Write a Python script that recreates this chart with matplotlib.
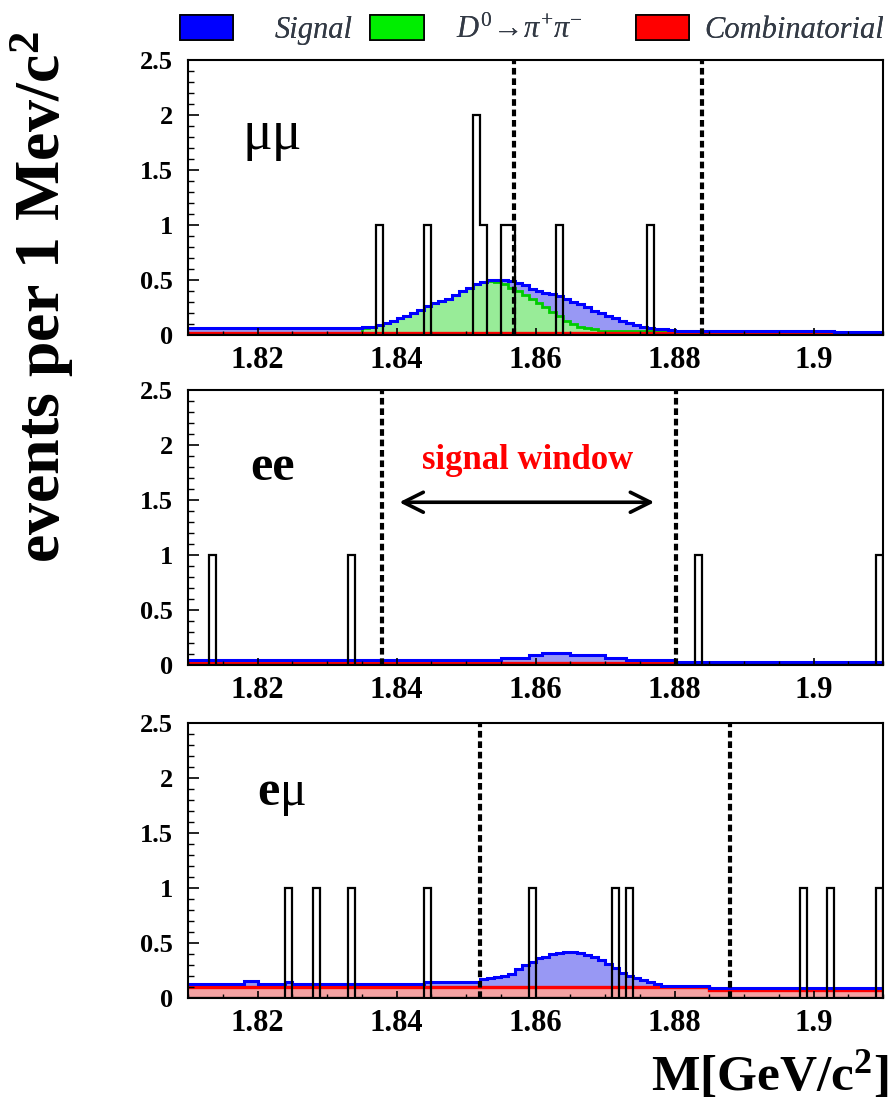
import numpy as np
import matplotlib
matplotlib.use("Agg")
import matplotlib.pyplot as plt
from matplotlib.patches import Patch
from matplotlib.ticker import MultipleLocator

plt.rcParams['font.family'] = ['Liberation Serif', 'DejaVu Serif']
plt.rcParams['mathtext.fontset'] = 'custom'
plt.rcParams['mathtext.rm'] = 'Liberation Serif'
plt.rcParams['mathtext.it'] = 'Liberation Serif:italic'
plt.rcParams['mathtext.bf'] = 'Liberation Serif:bold'

# 1 MeV bins from 1.81 to 1.91 GeV
edges = np.round(np.linspace(1.81, 1.91, 101), 4)

# --- mu mu ---
mumu_events = [1.8375, 1.8445, 1.8515, 1.8515, 1.8525, 1.8555, 1.8565, 1.8635, 1.8765]
mumu_comb = [0.02] * 100
mumu_pipi_top = ([0.02] * 25
                 + [0.06, 0.07, 0.09, 0.11, 0.13, 0.15, 0.17, 0.20, 0.23, 0.26,
                    0.29, 0.31, 0.33, 0.36, 0.40, 0.43, 0.46, 0.48, 0.49, 0.48,
                    0.46, 0.43, 0.40, 0.36, 0.33, 0.29, 0.25, 0.21, 0.17, 0.13,
                    0.10, 0.07, 0.06, 0.05]
                 + [0.035] * 34 + [0.02] * 7)
mumu_total = ([0.06] * 25
              + [0.07, 0.07, 0.09, 0.11, 0.13, 0.15, 0.17, 0.20, 0.23, 0.26,
                 0.29, 0.31, 0.33, 0.36, 0.40, 0.43, 0.46, 0.48, 0.50, 0.50,
                 0.50, 0.49, 0.47, 0.45, 0.42, 0.40, 0.38, 0.37, 0.35, 0.33,
                 0.30, 0.28, 0.25, 0.22, 0.20, 0.17, 0.15, 0.13, 0.11, 0.09,
                 0.07, 0.06, 0.05, 0.05, 0.045]
              + [0.04] * 23 + [0.025] * 7)
mumu_window = [1.8569, 1.8840]

# --- e e ---
ee_events = [1.8135, 1.8335, 1.8835, 1.9095]
ee_comb = [0.02] * 70 + [0.012] * 30
ee_pipi_top = ee_comb
ee_total = ([0.045] * 45 + [0.065] * 4 + [0.09] * 2 + [0.11] * 4 + [0.09] * 5
            + [0.065] * 3 + [0.045] * 7 + [0.025] * 30)
ee_window = [1.8379, 1.8802]

# --- e mu ---
emu_events = [1.8245, 1.8285, 1.8335, 1.8445, 1.8595, 1.8715, 1.8735,
              1.8985, 1.9025, 1.9095]
emu_comb = [0.10] * 75 + [0.075] * 25
emu_pipi_top = emu_comb
emu_total = ([0.125] * 8 + [0.155] * 2 + [0.125] * 4 + [0.15] + [0.125] * 19
             + [0.15] * 8
             + [0.17, 0.18, 0.19, 0.20, 0.22, 0.26, 0.30, 0.33, 0.36, 0.375,
                0.40, 0.41, 0.42, 0.42, 0.41, 0.39, 0.37, 0.345, 0.31, 0.27,
                0.225, 0.20, 0.18, 0.16, 0.15, 0.13]
             + [0.11] * 7 + [0.088] * 25)
emu_window = [1.8520, 1.8880]

xticks = [1.82, 1.84, 1.86, 1.88, 1.90]
xticklabels = ['1.82', '1.84', '1.86', '1.88', '1.9']
yticks = [0, 0.5, 1, 1.5, 2, 2.5]
yticklabels = ['0', '0.5', '1', '1.5', '2', '2.5']

legend_labels = ['Signal', r'$D^{0}\!\rightarrow\!\pi^{+}\pi^{-}$', 'Combinatorial']
legend_colors = ['#0000ff', '#00ee00', '#ff0000']

blue_fill, green_fill, red_fill = '#9898f4', '#98ec98', '#f4a2a2'

fig = plt.figure(figsize=(8.94, 11.04), dpi=100)

panels = [
    (mumu_events, mumu_comb, mumu_pipi_top, mumu_total, mumu_window, 0.6966),
    (ee_events, ee_comb, ee_pipi_top, ee_total, ee_window, 0.3976),
    (emu_events, emu_comb, emu_pipi_top, emu_total, emu_window, 0.0960),
]

axes = []
for events, comb, pipi_top, total, window, bottom in panels:
    ax = fig.add_axes([0.2103, bottom, 0.7774, 0.2491])
    axes.append(ax)
    counts, _ = np.histogram(events, bins=edges)

    # stacked MC: combinatorial + D0->pipi + signal
    ax.stairs(total, edges, baseline=0, fill=True, color=blue_fill, lw=0)
    ax.stairs(pipi_top, edges, baseline=0, fill=True, color=green_fill, lw=0)
    ax.stairs(comb, edges, baseline=0, fill=True, color=red_fill, lw=0)
    ax.stairs(pipi_top, edges, baseline=None, color='#00cc00', lw=2.0)
    ax.stairs(comb, edges, baseline=None, color='#ff0000', lw=2.4)
    ax.stairs(total, edges, baseline=None, color='#0000ff', lw=2.2)

    # data
    ax.stairs(counts, edges, baseline=0, color='black', lw=1.6)

    for xw in window:
        ax.axvline(xw, color='black', lw=3.0, ls=(0, (1.6, 0.9)))

    ax.set_xlim(1.81, 1.91)
    ax.set_ylim(0, 2.5)
    ax.set_xticks(xticks)
    ax.set_xticklabels(xticklabels, fontsize=22, fontweight='bold')
    ax.set_yticks(yticks)
    ax.set_yticklabels(yticklabels, fontsize=19, fontweight='bold')
    ax.xaxis.set_minor_locator(MultipleLocator(0.005))
    ax.yaxis.set_minor_locator(MultipleLocator(0.1))
    ax.tick_params(axis='y', which='major', direction='in', length=8, width=1.2, pad=11)
    ax.tick_params(axis='y', which='minor', direction='in', length=4, width=1.0)
    ax.tick_params(axis='x', which='major', direction='in', length=5, width=1.2, pad=8)
    ax.tick_params(axis='x', which='minor', direction='in', length=3, width=1.0)
    for s in ax.spines.values():
        s.set_linewidth(1.5)

axes[0].text(1.8221, 1.82, 'μμ', fontsize=40, ha='center', va='center')
axes[1].text(1.8221, 1.79, 'ee', fontsize=36, fontweight='bold', ha='center', va='center')
axes[2].text(1.8235, 1.85, r'$\mathbf{e}\mathrm{μ}$', fontsize=36, ha='center', va='center')

axes[1].text(1.8589, 1.86, 'signal window', color='#ff0000', fontsize=25,
             fontweight='bold', ha='center', va='center')
axes[1].annotate('', xy=(1.8775, 1.48), xytext=(1.8400, 1.48),
                 arrowprops=dict(arrowstyle='<->', lw=2.6, mutation_scale=36,
                                 color='black'))

fig.text(0.047, 0.731, 'events per 1 Mev/c$^{\\mathbf{2}}$', rotation=90,
         fontsize=46, fontweight='bold', ha='center', va='center')
fig.text(0.994, 0.026, 'M[GeV/c$^{\\mathbf{2}}$]', fontsize=37, fontweight='bold',
         ha='right', va='center')

# legend row, one entry at a time so the spacing follows the original
leg_x = [0.201, 0.414, 0.711]
leg_pad = [1.35, 1.05, 0.5]
for lab, col, x0, pad in zip(legend_labels, legend_colors, leg_x, leg_pad):
    leg = fig.legend([Patch(facecolor=col, edgecolor='black', lw=1.2)], [lab],
                     loc='upper left', bbox_to_anchor=(x0, 0.986),
                     frameon=False, fontsize=22, handlelength=1.75,
                     handleheight=0.85, handletextpad=pad,
                     borderpad=0, borderaxespad=0)
    for t in leg.get_texts():
        t.set_fontstyle('italic')
        t.set_color('#333a45')
    fig.add_artist(leg)

fig.savefig('out.png', dpi=100)
